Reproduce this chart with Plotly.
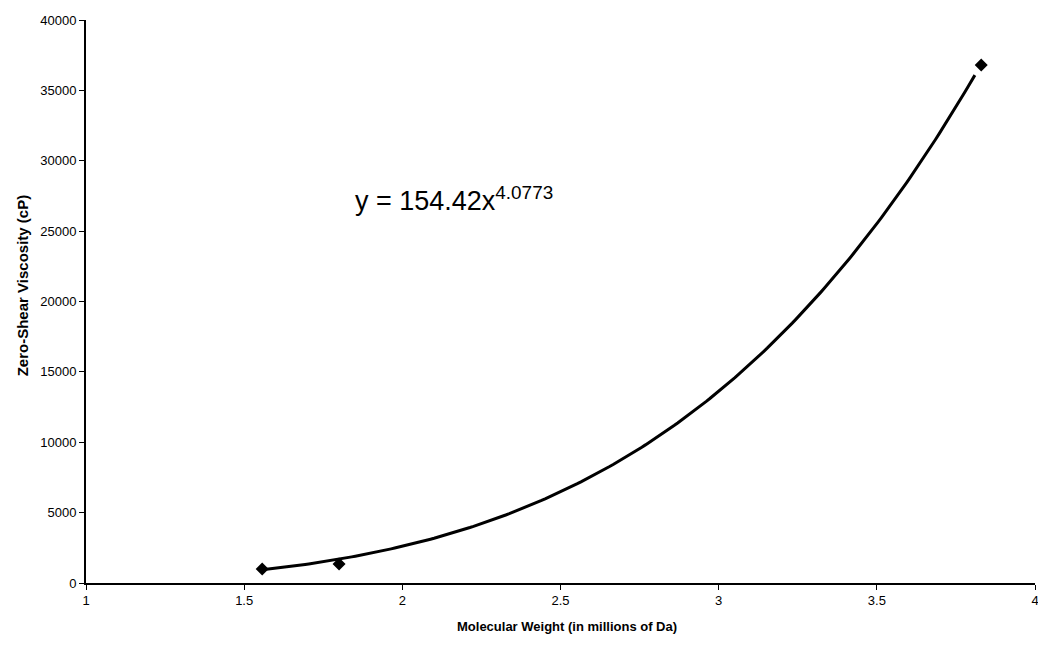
import numpy as np
import plotly.graph_objects as go

# Measured data points
mw = [1.557, 1.80, 3.83]
viscosity = [1000, 1350, 36800]

# Power-law trendline coefficients shown on the chart
fit_a = 154.42
fit_b = 4.0773
fit_x_start = 1.557
fit_x_end = 3.81

x_ticks = [1, 1.5, 2, 2.5, 3, 3.5, 4]
y_ticks = [0, 5000, 10000, 15000, 20000, 25000, 30000, 35000, 40000]

xf = np.linspace(fit_x_start, fit_x_end, 200)
yf = fit_a * xf ** fit_b

FONT = "Liberation Sans, Arial"

fig = go.Figure()
fig.add_trace(go.Scatter(x=xf, y=yf, mode="lines",
                         line=dict(color="black", width=3), showlegend=False,
                         hoverinfo="skip"))
fig.add_trace(go.Scatter(x=mw, y=viscosity, mode="markers",
                         marker=dict(symbol="diamond", color="black", size=10),
                         showlegend=False))

fig.add_annotation(x=1.843, y=27300, xanchor="left", yanchor="middle",
                   text="y = 154.42x<sup>4.0773</sup>", showarrow=False,
                   font=dict(family=FONT, size=27, color="black"))

# Axis titles
fig.add_annotation(xref="paper", yref="paper", x=0, y=0.527, xshift=-64,
                   xanchor="center", yanchor="middle", textangle=-90,
                   text="<b>Zero-Shear Viscosity (cP)</b>", showarrow=False,
                   font=dict(family=FONT, size=15, color="black"))
fig.add_annotation(xref="paper", yref="paper", x=0.507, y=-0.078,
                   xanchor="center", yanchor="middle",
                   text="<b>Molecular Weight (in millions of Da)</b>", showarrow=False,
                   font=dict(family=FONT, size=13, color="black"))

fig.update_layout(
    width=1038, height=649,
    margin=dict(l=86, r=3, t=20, b=66),
    plot_bgcolor="white", paper_bgcolor="white",
    font=dict(family=FONT, color="black", size=13),
    xaxis=dict(range=[1, 4], tickvals=x_ticks, ticktext=[str(v) for v in x_ticks],
               showgrid=False, zeroline=False, showline=True, linecolor="black",
               linewidth=1.5, ticks="outside", ticklen=5, tickcolor="black",
               automargin=False, tickfont=dict(size=13), ticklabeloverflow="allow"),
    yaxis=dict(range=[0, 40000], tickvals=y_ticks, ticktext=[str(v) for v in y_ticks],
               showgrid=False, zeroline=False, showline=True, linecolor="black",
               linewidth=2, ticks="outside", ticklen=5, tickcolor="black",
               automargin=False, tickfont=dict(size=13)),
)

fig.write_html("out.html", config={"displayModeBar": False},
               post_script="document.body.style.margin='0';document.body.style.overflow='hidden';")
